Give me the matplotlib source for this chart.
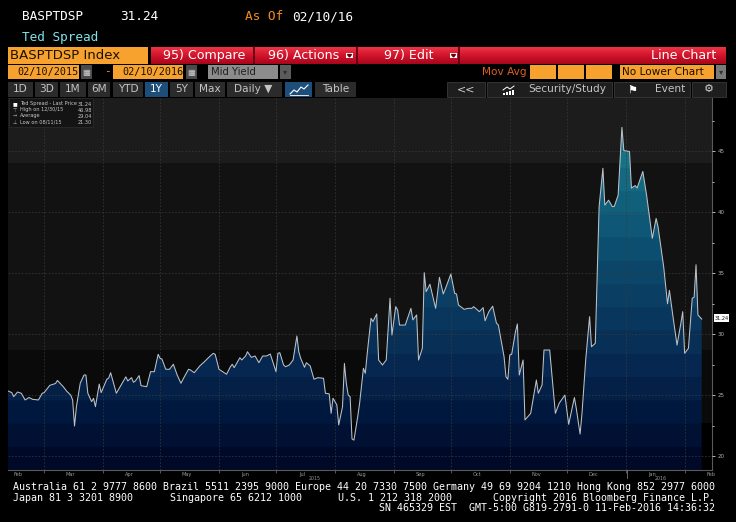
import matplotlib
matplotlib.use("Agg")
import matplotlib.pyplot as plt
import matplotlib.dates as mdates
from matplotlib.colors import LinearSegmentedColormap
from matplotlib.patches import Rectangle
from matplotlib.ticker import MultipleLocator, NullFormatter
import numpy as np
import pandas as pd

# Ted Spread (BASPTDSP Index), daily, 02/10/2015 - 02/10/2016
start = "2015-02-10"
days = [0, 2, 3, 5, 7, 9, 11, 13, 16, 18, 19, 22, 25, 26, 29, 31, 33, 34, 35, 36,
        38, 40, 41, 42, 44, 45, 46, 48, 49, 52, 53, 54, 57, 60, 62, 63, 65, 66, 67, 69,
        70, 73, 75, 77, 79, 80, 81, 83, 85, 87, 89, 91, 93, 95, 96, 98, 101, 103, 106, 108,
        109, 111, 115, 117, 118, 119, 122, 123, 125, 126, 128, 130, 132, 134, 136, 138, 139, 141, 142, 143,
        145, 146, 148, 150, 152, 153, 154, 156, 157, 159, 161, 163, 166, 167, 169, 170, 171, 173, 174, 176,
        177, 178, 179, 180, 181, 182, 184, 185, 187, 188, 189, 191, 192, 194, 195, 197, 199, 201, 202, 204,
        205, 206, 209, 212, 213, 215, 216, 218, 219, 220, 222, 225, 227, 229, 230, 233, 235, 236, 237, 240,
        242, 244, 245, 248, 250, 251, 253, 255, 257, 258, 261, 262, 263, 264, 265, 267, 268, 269, 271, 272,
        275, 278, 279, 281, 282, 285, 288, 290, 293, 295, 298, 299, 301, 302, 304, 306, 307, 309, 311, 313,
        314, 316, 318, 319, 321, 323, 324, 327, 328, 330, 331, 334, 336, 337, 339, 341, 342, 345, 347, 348,
        350, 352, 354, 355, 356, 358, 360, 361, 362, 363, 365]
spread = [25.34, 25.20, 24.87, 25.25, 25.15, 24.60, 24.80, 24.65, 24.60, 25.15, 25.20, 25.80, 25.95, 26.20, 25.70, 25.30, 25.00, 24.60, 22.46, 24.05,
          25.97, 26.65, 26.65, 25.15, 24.46, 24.74, 24.05, 25.90, 25.20, 26.30, 26.40, 26.84, 25.15, 25.97, 26.50, 26.16, 26.43, 26.05, 26.16, 26.60,
          25.77, 25.69, 26.92, 26.92, 28.35, 28.02, 27.96, 27.12, 27.12, 27.53, 26.65, 25.97, 26.57, 27.12, 27.06, 26.84, 27.41, 27.69, 28.15, 28.43,
          28.35, 27.12, 26.71, 27.33, 27.53, 27.25, 28.07, 27.88, 28.21, 28.56, 28.10, 28.21, 27.66, 28.21, 28.21, 28.37, 27.88, 26.92, 28.43, 28.48,
          27.47, 27.33, 27.47, 27.88, 29.85, 28.56, 28.02, 27.28, 27.66, 27.39, 26.30, 26.43, 26.38, 25.15, 25.10, 23.50, 24.74, 24.20, 22.55, 24.05,
          27.60, 25.97, 25.00, 24.87, 21.40, 21.30, 23.23, 24.33, 27.20, 26.79, 28.43, 31.30, 31.03, 31.66, 27.88, 27.47, 27.88, 32.95, 29.93, 32.26,
          31.99, 30.75, 30.75, 32.12, 31.17, 31.58, 27.88, 28.84, 35.05, 33.49, 34.10, 32.12, 34.67, 33.30, 33.68, 34.94, 33.36, 33.30, 32.40, 32.04,
          32.12, 32.12, 32.26, 31.85, 32.18, 31.10, 31.85, 32.30, 30.90, 30.75, 28.15, 26.50, 26.30, 28.30, 28.35, 30.20, 30.84, 26.65, 27.88, 22.96,
          23.50, 26.24, 25.15, 25.83, 28.70, 28.70, 23.50, 24.33, 25.00, 22.60, 24.80, 23.90, 21.80, 23.50, 28.00, 31.44, 28.97, 29.25, 40.47, 43.62,
          40.60, 41.00, 40.47, 40.50, 41.40, 46.98, 45.07, 45.00, 42.00, 42.20, 42.00, 43.36, 41.40, 40.20, 37.87, 39.50, 38.83, 35.50, 32.50, 33.60,
          31.30, 29.10, 30.88, 31.85, 28.43, 28.84, 32.95, 33.04, 35.70, 31.58, 31.24]

y_ticks = [20, 25, 30, 35, 40, 45]
legend_rows = [("Ted Spread - Last Price", "31.24"),
               ("High on 12/30/15", "46.98"),
               ("Average", "29.04"),
               ("Low on 08/11/15", "21.30")]
periods = ["1D", "3D", "1M", "6M", "YTD", "1Y", "5Y", "Max"]

MONO = "DejaVu Sans Mono"
SANS = "DejaVu Sans"
ORANGE = "#f7a12e"

fig = plt.figure(figsize=(7.36, 5.22), dpi=100, facecolor="black")

# ---- pixel-space layer for the terminal chrome ----
bg = fig.add_axes([0, 0, 1, 1])
bg.set_xlim(0, 736)
bg.set_ylim(522, 0)
bg.axis("off")


def box(x0, y0, x1, y1, fc, ec="none", lw=0.6, ax=bg, z=1):
    ax.add_patch(Rectangle((x0, y0), x1 - x0, y1 - y0, fc=fc, ec=ec, lw=lw, zorder=z))


def txt(x, y, s, color, size, ha="left", family=MONO, ax=bg, **kw):
    ax.text(x, y, s, color=color, fontsize=size, ha=ha, va="center", family=family, **kw)


# header
txt(22, 17, "BASPTDSP", "white", 9.2)
txt(120, 17, "31.24", "white", 9.2)
txt(245, 17, "As Of", "#f08a20", 9.2)
txt(292, 17, "02/10/16", "white", 9.2)
txt(22, 37, "Ted Spread", "#7fe3ea", 9.2)

# red menu bar
box(8, 47, 148, 64, ORANGE)
txt(10, 55.5, "BASPTDSP Index", "#1a1000", 9.5, family=SANS)
red = LinearSegmentedColormap.from_list("red", ["#a8061c", "#d0142c", "#ee3446"])
bg.imshow(np.linspace(0, 1, 50).reshape(-1, 1), extent=[151, 726, 64, 47],
          cmap=red, aspect="auto", origin="lower", zorder=1)
for sx in [253.5, 356.5, 458.5]:
    bg.plot([sx, sx], [47, 64], color="#5a0010", lw=1.2, zorder=2)
txt(163, 55.5, "95) Compare", "white", 9.1, family=SANS, zorder=3)
txt(268, 55.5, "96) Actions", "white", 9.1, family=SANS, zorder=3)
txt(384, 55.5, "97) Edit", "white", 9.1, family=SANS, zorder=3)
txt(716, 55.5, "Line Chart", "white", 9.1, ha="right", family=SANS, zorder=3)
for dx in [346, 450]:
    box(dx, 53, dx + 7, 58, "white", z=3)
    bg.fill([dx + 1.5, dx + 5.5, dx + 3.5], [54.5, 54.5, 57], color="#600010", zorder=4)

# date / option row
box(8, 65, 79, 79, ORANGE)
txt(17, 72, "02/10/2015", "#1a1000", 7.3)
box(113, 65, 183, 79, ORANGE)
txt(122, 72, "02/10/2016", "#1a1000", 7.3)
txt(104, 71.5, "-", ORANGE, 8)
for cx in [81, 186]:
    box(cx, 65, cx + 11, 79, "#4a4a4a")
    txt(cx + 5.5, 72, "\u25a6", "#d0d0d0", 6, ha="center", family=SANS)
box(208, 65, 278, 79, "#8c8c8c")
txt(211, 72, "Mid Yield", "#202020", 7.2, family=SANS)
box(280, 65, 291, 79, "#5c5c5c")
txt(285.5, 72, "\u25be", "#303030", 6, ha="center", family=SANS)
txt(482, 72, "Mov Avg", "#e0601c", 7.6, family=SANS)
for mx in [530, 558, 586]:
    box(mx, 65, mx + 26, 79, ORANGE)
box(620, 65, 714, 79, ORANGE)
txt(622, 72, "No Lower Chart", "#1a1000", 7.6, family=SANS)
box(716, 65, 726, 79, "#7a7a7a")
txt(721, 72, "\u25be", "#303030", 6, ha="center", family=SANS)

# period buttons
bx = [(8, 33), (35, 58), (60, 86), (88, 110), (113, 143), (145, 168), (170, 193), (195, 225)]
for (b0, b1), lab in zip(bx, periods):
    active = lab == "1Y"
    box(b0, 82, b1, 97, "#1d4e7a" if active else "#2b2b2b")
    txt((b0 + b1) / 2, 89.5, lab, "white" if active else "#c4c4c4", 7.6, ha="center", family=SANS)
box(227, 82, 282, 97, "#2b2b2b")
txt(234, 89.5, "Daily \u25bc", "#c4c4c4", 7.6, family=SANS)
box(285, 82, 312, 97, "#1d4e7a")
bg.plot([290, 294, 297, 301, 304, 308], [94, 90, 92, 87, 89, 85], color="white", lw=0.8, zorder=3)
bg.plot([290, 308], [95, 95], color="white", lw=0.6, zorder=3)
box(315, 82, 356, 97, "#2b2b2b")
txt(335.5, 89.5, "Table", "#c4c4c4", 7.6, ha="center", family=SANS)

box(447, 82, 485, 97, "#1e1e1e", ec="#3a3a3a")
txt(466, 89.5, "<<", "#d0d0d0", 8, ha="center", family=SANS)
box(487, 82, 612, 97, "#1e1e1e", ec="#3a3a3a")
bg.plot([503, 507, 510, 514], [90, 87, 89, 86], color="white", lw=0.7, zorder=3)
for i, h in enumerate([2, 3, 4, 5]):
    box(503 + i * 3, 95 - h, 505 + i * 3, 95, "white", z=3)
txt(528, 89.5, "Security/Study", "#c4c4c4", 7.6, family=SANS)
box(614, 82, 690, 97, "#1e1e1e", ec="#3a3a3a")
txt(632, 89.5, "\u2691", "white", 8, ha="center", family=SANS)
txt(655, 89.5, "Event", "#c4c4c4", 7.6, family=SANS)
box(692, 82, 726, 97, "#1e1e1e", ec="#3a3a3a")
txt(709, 89.5, "\u2699", "#d0d0d0", 8, ha="center", family=SANS)

# footer
txt(13, 487, "Australia 61 2 9777 8600 Brazil 5511 2395 9000 Europe 44 20 7330 7500 "
             "Germany 49 69 9204 1210 Hong Kong 852 2977 6000", "white", 7.2)
txt(13, 498, "Japan 81 3 3201 8900", "white", 7.2)
txt(170, 498, "Singapore 65 6212 1000", "white", 7.2)
txt(338, 498, "U.S. 1 212 318 2000", "white", 7.2)
txt(715, 498, "Copyright 2016 Bloomberg Finance L.P.", "white", 7.2, ha="right")
txt(715, 508, "SN 465329 EST  GMT-5:00 G819-2791-0 11-Feb-2016 14:36:32", "white", 7.2, ha="right")

# ---- the chart ----
ax = fig.add_axes([8 / 736, (522 - 470) / 522, 704 / 736, 372 / 522])
ax.set_facecolor("black")
ylo, yhi = 18.85, 49.39
x0 = mdates.date2num(pd.Timestamp(start))
x1 = x0 + 370.4
xs = mdates.date2num((pd.Timestamp(start) + pd.to_timedelta(days, unit="D")).to_pydatetime())

for lo, hi, c in [(ylo, 22.71, "#000000"), (22.71, 28.7, "#0a0a0a"),
                  (28.7, 44.06, "#121212"), (44.06, yhi, "#1c1c1c")]:
    ax.axhspan(lo, hi, color=c, lw=0, zorder=0)

poly = ax.fill_between(xs, spread, ylo, color="none", lw=0)
fill_cmap = LinearSegmentedColormap.from_list(
    "ted", ["#000a28", "#021a40", "#072a52", "#0a3a5f", "#0c4b6c", "#105e7b", "#177186", "#1f8292"], N=16)
im = ax.imshow(np.linspace(0, 1, 400).reshape(-1, 1), extent=[x0, x1, ylo, yhi],
               origin="lower", aspect="auto", cmap=fill_cmap, zorder=1)
im.set_clip_path(poly.get_paths()[0], transform=ax.transData)
ax.plot(xs, spread, color="#bcc2c8", lw=0.75, zorder=3)

ax.set_xlim(x0, x1)
ax.set_ylim(ylo, yhi)
ax.set_axisbelow(False)

ax.xaxis.set_major_locator(mdates.MonthLocator())
ax.xaxis.set_major_formatter(NullFormatter())
ax.xaxis.set_minor_locator(mdates.MonthLocator(bymonthday=15))
ax.xaxis.set_minor_formatter(mdates.DateFormatter("%b"))
ax.tick_params(axis="x", which="major", length=2, color="#666666", width=0.6)
ax.tick_params(axis="x", which="minor", length=0, labelsize=3.6, labelcolor="#9a9a9a", pad=1.5)

ax.yaxis.tick_right()
ax.set_yticks(y_ticks)
ax.yaxis.set_minor_locator(MultipleLocator(2.5))
ax.tick_params(axis="y", which="both", color="#d0d0d0", width=0.6, labelsize=4,
               labelcolor="#b0b0b0", pad=1.5)
ax.tick_params(axis="y", which="major", length=2.5)
ax.tick_params(axis="y", which="minor", length=1.5)

ax.grid(True, which="major", color="#3c3c3c", ls=(0, (2, 2)), lw=0.6, alpha=0.8)
for side in ["top", "left"]:
    ax.spines[side].set_visible(False)
for side in ["right", "bottom"]:
    ax.spines[side].set_color("#5a5a5a")
    ax.spines[side].set_linewidth(0.8)

# ---- overlay: legend, last price tag, year labels ----
ov = fig.add_axes([0, 0, 1, 1], zorder=10)
ov.set_xlim(0, 736)
ov.set_ylim(522, 0)
ov.axis("off")
ov.patch.set_alpha(0)

box(9, 98, 93, 127, "#141414", ec="#2e2e2e", lw=0.5, ax=ov)
marks = ["\u25a0", "\u22a4", "\u2192", "\u22a5"]
for i, ((label, val), mk) in enumerate(zip(legend_rows, marks)):
    yy = 104 + i * 6
    txt(13, yy, mk, "white" if i == 0 else "#b0b0b0", 3.6, family=SANS, ax=ov)
    txt(20, yy, label, "#c8c8c8", 3.6, family=SANS, ax=ov)
    txt(92, yy, val, "#c8c8c8", 3.6, ha="right", family=SANS, ax=ov)

box(714, 314, 729, 322, "white", ax=ov)
txt(721.5, 318, f"{spread[-1]:.2f}", "#101010", 3.6, ha="center", family=SANS, ax=ov)

ov.plot([627, 627], [470, 478], color="#777777", lw=0.6)
txt(315, 479, "2015", "#9a9a9a", 3.4, ha="center", family=SANS, ax=ov)
txt(661, 479, "2016", "#9a9a9a", 3.4, ha="center", family=SANS, ax=ov)

fig.savefig("out.png", dpi=100, facecolor="black")
plt.close(fig)
